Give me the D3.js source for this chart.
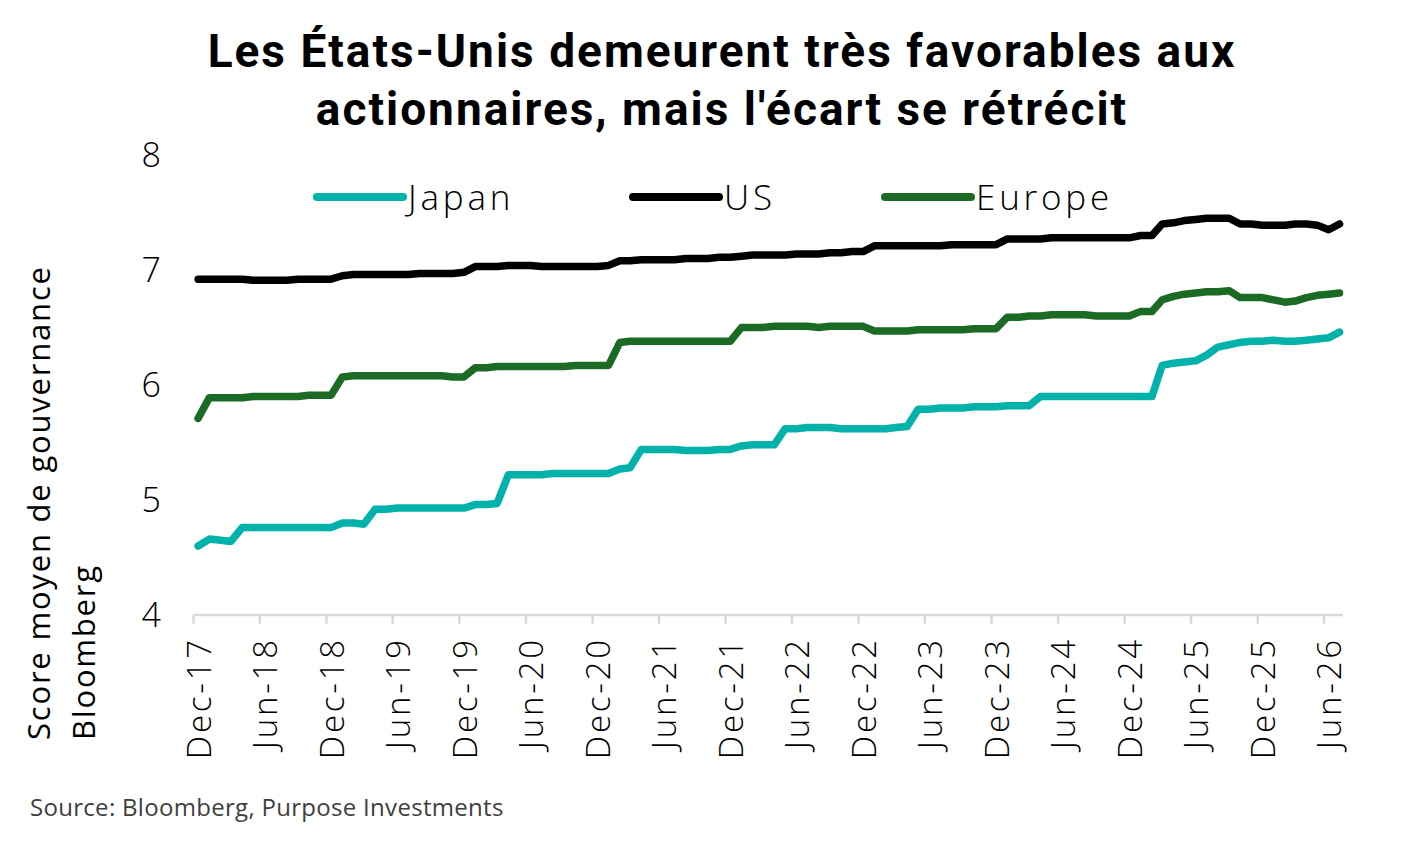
<!DOCTYPE html>
<html>
<head>
<meta charset="utf-8">
<script src="https://cdn.jsdelivr.net/npm/d3@7"></script>
<style>
  body { margin: 0; background: #fff; }
  svg { display: block; }
</style>
</head>
<body>
<svg id="chart"></svg>
<script>
// monthly scores, Dec-17 .. Jul-26
const startMonth = new Date(2017, 11, 15)

const japan = [
  4.60, 4.66, 4.65, 4.64,
  4.76, 4.76, 4.76, 4.76, 4.76, 4.76, 4.76, 4.76, 4.76,
  4.80, 4.80, 4.79,
  4.92, 4.92, 4.93, 4.93, 4.93, 4.93, 4.93, 4.93, 4.93,
  4.96, 4.96, 4.97,
  5.22, 5.22, 5.22, 5.22, 5.23, 5.23, 5.23, 5.23, 5.23, 5.23,
  5.27, 5.28,
  5.44, 5.44, 5.44, 5.44, 5.43, 5.43, 5.43, 5.44, 5.44,
  5.47, 5.48, 5.48, 5.48,
  5.62, 5.62, 5.63, 5.63, 5.63, 5.62, 5.62, 5.62, 5.62, 5.62, 5.63, 5.64,
  5.79, 5.79, 5.80, 5.80, 5.80, 5.81, 5.81, 5.81, 5.82,
  5.82, 5.82,
  5.90, 5.90, 5.90, 5.90, 5.90, 5.90, 5.90, 5.90, 5.90, 5.90, 5.90,
  6.17, 6.19, 6.20, 6.21, 6.26, 6.33, 6.35, 6.37, 6.38, 6.38, 6.39, 6.38, 6.38, 6.39, 6.40, 6.41, 6.46
]

const us = [
  6.92, 6.92, 6.92, 6.92, 6.92, 6.91, 6.91, 6.91, 6.91, 6.92, 6.92, 6.92, 6.92,
  6.95, 6.96, 6.96, 6.96, 6.96, 6.96, 6.96, 6.97, 6.97, 6.97, 6.97, 6.98,
  7.03, 7.03, 7.03, 7.04, 7.04, 7.04, 7.03, 7.03, 7.03, 7.03, 7.03, 7.03, 7.04,
  7.08, 7.08, 7.09, 7.09, 7.09, 7.09, 7.10, 7.10, 7.10, 7.11, 7.11,
  7.12, 7.13, 7.13, 7.13, 7.13, 7.14, 7.14, 7.14, 7.15, 7.15, 7.16, 7.16,
  7.21, 7.21, 7.21, 7.21, 7.21, 7.21, 7.21, 7.22, 7.22, 7.22, 7.22, 7.22,
  7.27, 7.27, 7.27, 7.27, 7.28, 7.28, 7.28, 7.28, 7.28, 7.28, 7.28, 7.28,
  7.30, 7.30, 7.40, 7.41, 7.43, 7.44, 7.45, 7.45, 7.45, 7.40, 7.40, 7.39, 7.39, 7.39, 7.40, 7.40, 7.39, 7.35, 7.40
]

const europe = [
  5.71,
  5.89, 5.89, 5.89, 5.89, 5.90, 5.90, 5.90, 5.90, 5.90,
  5.91, 5.91, 5.91,
  6.07, 6.08, 6.08, 6.08, 6.08, 6.08, 6.08, 6.08, 6.08, 6.08, 6.07, 6.07,
  6.15, 6.15, 6.16, 6.16, 6.16, 6.16, 6.16, 6.16, 6.16, 6.17, 6.17, 6.17, 6.17,
  6.37, 6.38, 6.38, 6.38, 6.38, 6.38, 6.38, 6.38, 6.38, 6.38, 6.38,
  6.50, 6.50, 6.50, 6.51, 6.51, 6.51, 6.51, 6.50, 6.51, 6.51, 6.51, 6.51,
  6.47, 6.47, 6.47, 6.47, 6.48, 6.48, 6.48, 6.48, 6.48, 6.49, 6.49, 6.49,
  6.59, 6.59, 6.60, 6.60, 6.61, 6.61, 6.61, 6.61, 6.60, 6.60, 6.60, 6.60,
  6.64, 6.64, 6.74, 6.77, 6.79, 6.80, 6.81, 6.81, 6.82, 6.76, 6.76, 6.76, 6.74, 6.72, 6.73, 6.76, 6.78, 6.79, 6.80
]

const seriesNames = ["Japan", "US", "Europe"]
const seriesColors = ["#00B2A9", "#000000", "#1B6B25"]
const yTicks = [4, 5, 6, 7, 8]
const xTickLabels = ["Dec-17", "Jun-18", "Dec-18", "Jun-19", "Dec-19", "Jun-20", "Dec-20", "Jun-21", "Dec-21",
  "Jun-22", "Dec-22", "Jun-23", "Dec-23", "Jun-24", "Dec-24", "Jun-25", "Dec-25", "Jun-26"]

const width = 1423
const height = 850
const labelFont = "'Open Sans', sans-serif"

var chart = d3.select("#chart")
    .attr("width", width)
    .attr("height", height)
    ;

const parseTick = d3.timeParse("%b-%y")
const formatTick = d3.timeFormat("%b-%y")
const dates = japan.map((d, i) => d3.timeMonth.offset(startMonth, i))

const x = d3.scaleTime()
    .domain([parseTick("Dec-17"), parseTick("Jun-26")])
    .range([193, 1323.5]);

const y = d3.scaleLinear()
    .domain([4, 8])
    .range([615, 155]);

// title
chart.append("text")
    .attr("text-anchor", "middle")
    .style("font-family", "Roboto, 'Liberation Sans', sans-serif")
    .style("font-weight", "bold")
    .style("font-size", "46px")
    .style("letter-spacing", "2px")
    .style("fill", "#000")
    .selectAll("tspan")
    .data(["Les États-Unis demeurent très favorables aux", "actionnaires, mais l'écart se rétrécit"])
    .join("tspan")
    .attr("x", 722)
    .attr("y", (d, i) => 67 + i * 58)
    .text(d => d)
    ;

// x axis
const xAxis = d3.axisBottom(x)
    .tickValues(xTickLabels.map(parseTick))
    .tickSize(9)
    .tickFormat(formatTick)
    ;

const gx = chart.append("g")
    .attr("transform", "translate(0," + y(4) + ")")
    .call(xAxis)
    ;
gx.select(".domain").remove();
gx.append("line")
    .attr("x1", x.range()[0])
    .attr("x2", 1343)
    .attr("stroke", "#d9d9d9")
    .attr("stroke-width", 2.5);
gx.selectAll(".tick line")
    .attr("stroke", "#d9d9d9")
    .attr("stroke-width", 2.5);
gx.selectAll(".tick text")
    .attr("transform", "rotate(-90)")
    .attr("x", -22)
    .attr("y", 0)
    .attr("dy", "0.52em")
    .attr("text-anchor", "end")
    .style("font-family", labelFont)
    .style("font-weight", 300)
    .style("font-size", "33px")
    .style("letter-spacing", "2.8px")
    .style("fill", "#000");

// y axis labels
chart.append("g")
    .selectAll("text")
    .data(yTicks)
    .join("text")
    .attr("x", 161)
    .attr("y", d => y(d))
    .attr("dy", "0.36em")
    .attr("text-anchor", "end")
    .style("font-family", labelFont)
    .style("font-weight", 300)
    .style("font-size", "34px")
    .style("fill", "#000")
    .text(d => d)
    ;

// y axis title
chart.append("g")
    .selectAll("text")
    .data(["Score moyen de gouvernance", "Bloomberg"])
    .join("text")
    .attr("transform", (d, i) => "translate(" + (50 + i * 45) + ",740) rotate(-90)")
    .attr("text-anchor", "start")
    .style("font-family", labelFont)
    .style("font-size", "31px")
    .style("letter-spacing", "1.8px")
    .style("fill", "#000")
    .text(d => d)
    ;

// lines
const line = d3.line()
    .x((d, i) => x(dates[i]))
    .y(d => y(d));

chart.append("g")
    .selectAll("path")
    .data([japan, us, europe])
    .join("path")
    .attr("d", line)
    .attr("fill", "none")
    .attr("stroke", (d, i) => seriesColors[i])
    .attr("stroke-width", 7.5)
    .attr("stroke-linejoin", "round")
    .attr("stroke-linecap", "round")
    ;

// legend
const legendX = [317, 633, 885];
const legend = chart.append("g")
    .selectAll("g")
    .data(seriesNames)
    .join("g")
    .attr("transform", (d, i) => "translate(" + legendX[i] + ",197)");

legend.append("line")
    .attr("x1", 0)
    .attr("x2", 86)
    .attr("stroke", (d, i) => seriesColors[i])
    .attr("stroke-width", 8)
    .attr("stroke-linecap", "round");

legend.append("text")
    .attr("x", 91)
    .attr("dy", "0.36em")
    .style("font-family", labelFont)
    .style("font-weight", 300)
    .style("font-size", "35px")
    .style("letter-spacing", "3.8px")
    .style("fill", "#000")
    .text(d => d);

// source
chart.append("text")
    .attr("x", 30)
    .attr("y", 816)
    .style("font-family", labelFont)
    .style("font-size", "24px")
    .style("letter-spacing", "0.3px")
    .style("fill", "#404040")
    .text("Source: Bloomberg, Purpose Investments");
</script>
</body>
</html>
